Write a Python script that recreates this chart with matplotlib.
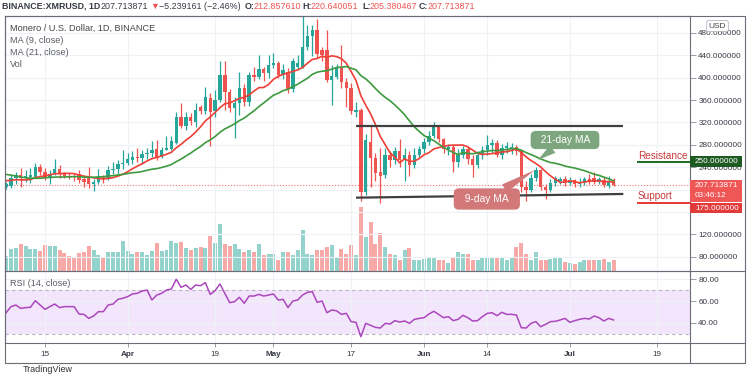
import matplotlib
matplotlib.use("Agg")
import matplotlib.pyplot as plt
import matplotlib.dates as mdates
import numpy as np
import pandas as pd
from matplotlib import font_manager
from matplotlib.patches import Rectangle
from matplotlib.ticker import FuncFormatter
from matplotlib.transforms import blended_transform_factory

# narrow font if present, otherwise plain Liberation Sans a bit smaller
_names = {f.name for f in font_manager.fontManager.ttflist}
NARROW = 'Liberation Sans Narrow' in _names
plt.rcParams['font.family'] = ['Liberation Sans Narrow', 'Liberation Sans', 'DejaVu Sans'] if NARROW \
    else ['Liberation Sans', 'DejaVu Sans']
FS = 7.0 if NARROW else 5.9
WIDE = ['Liberation Sans', 'DejaVu Sans']

# XMR/USD daily candles, Binance, 7 Mar - 10 Jul 2021
dates = pd.date_range('2021-03-07', '2021-07-10', freq='D')

opens = [204, 206, 220, 226, 220, 222, 223, 240, 232, 222,
         229, 236, 227, 225, 224, 228, 218, 221, 210, 214,
         224, 220, 234, 236, 246, 248, 252, 258, 256, 263,
         265, 272, 258, 271, 272, 284, 330, 313, 330, 320,
         348, 340, 363, 340, 360, 405, 375, 346, 355, 381,
         357, 405, 402, 415, 408, 423, 427, 405, 411, 379,
         420, 420, 455, 475, 485, 450, 450, 396, 402, 417,
         392, 382, 339, 343, 196, 285, 256, 231, 226, 262,
         252, 268, 252, 262, 244, 262, 272, 285, 296, 311,
         290, 272, 276, 250, 262, 273, 255, 244, 262, 270,
         279, 283, 262, 275, 272, 276, 268, 205, 200, 220,
         235, 205, 200, 212, 216, 218, 212, 217, 209, 212,
         219, 220, 214, 217, 206, 212.857610]
highs = [214, 226, 232, 238, 235, 238, 247, 245, 238, 235,
         255, 243, 232, 230, 228, 234, 222, 240, 218, 236,
         226, 242, 250, 252, 270, 265, 268, 274, 270, 275,
         287, 289, 276, 296, 296, 338, 354, 339, 336, 354,
         352, 384, 372, 378, 429, 429, 380, 365, 411, 388,
         410, 420, 440, 420, 440, 445, 430, 425, 418, 435,
         440, 512, 495, 495, 505, 455, 485, 423, 425, 458,
         400, 390, 356, 345, 300, 315, 265, 274, 275, 268,
         276, 290, 275, 268, 275, 278, 292, 305, 321, 314,
         293, 282, 280, 272, 278, 276, 262, 268, 278, 297,
         290, 288, 282, 285, 284, 280, 272, 215, 228, 240,
         237, 210, 218, 225, 222, 224, 222, 219, 220, 222,
         228, 232, 222, 222, 224, 220.640051]
lows = [201, 202, 210, 205, 214, 212, 220, 226, 217, 210,
        226, 220, 220, 218, 216, 212, 205, 202, 198, 209,
        212, 217, 228, 228, 237, 244, 245, 250, 245, 254,
        258, 253, 256, 270, 270, 282, 310, 306, 316, 312,
        335, 335, 277, 330, 357, 342, 339, 292, 333, 350,
        350, 395, 398, 395, 400, 418, 400, 398, 372, 375,
        415, 418, 450, 438, 435, 430, 392, 352, 398, 381,
        348, 335, 330, 180, 190, 205, 215, 175, 220, 240,
        245, 240, 215, 225, 238, 258, 265, 280, 292, 285,
        266, 262, 232, 240, 256, 245, 222, 238, 255, 262,
        265, 258, 255, 266, 264, 262, 195, 180, 196, 215,
        200, 183, 196, 206, 210, 206, 208, 204, 205, 208,
        210, 210, 210, 205, 203, 205.380467]
closes = [210, 220, 226, 220, 224, 226, 240, 232, 222, 228,
          236, 227, 225, 224, 222, 217, 214, 210, 214, 224,
          220, 234, 236, 246, 248, 254, 258, 256, 263, 265,
          270, 256, 271, 274, 286, 330, 313, 330, 322, 343,
          340, 366, 339, 360, 405, 375, 345, 355, 381, 357,
          405, 402, 415, 408, 423, 427, 405, 413, 379, 429,
          426, 455, 475, 485, 443, 440, 396, 403, 417, 392,
          382, 340, 343, 196, 288, 256, 230, 225, 262, 252,
          268, 252, 262, 244, 262, 272, 285, 296, 312, 290,
          272, 276, 250, 262, 273, 255, 244, 262, 270, 279,
          283, 262, 275, 278, 276, 268, 205, 200, 220, 235,
          205, 200, 212, 220, 218, 212, 217, 209, 214, 219,
          215, 214, 219, 208, 213, 207.713871]
volume = [15, 22, 23, 27, 25, 22, 22, 20, 26, 25,
          25, 21, 18, 15, 14, 18, 19, 25, 21, 16,
          14, 19, 19, 19, 30, 20, 17, 19, 19, 16,
          20, 28, 20, 21, 30, 28, 29, 23, 21, 23,
          24, 23, 35, 28, 47, 27, 25, 27, 22, 19,
          21, 19, 27, 16, 17, 17, 11, 19, 19, 16,
          21, 41, 17, 16, 21, 21, 24, 26, 14, 22,
          17, 26, 16, 64, 34, 49, 27, 38, 24, 17,
          16, 11, 21, 23, 11, 11, 12, 14, 14, 11,
          11, 8, 14, 19, 17, 17, 11, 11, 14, 14,
          14, 14, 14, 11, 14, 24, 28, 17, 11, 19,
          11, 11, 12, 14, 14, 9, 8, 7, 9, 11,
          11, 11, 11, 12, 9, 11]
rsi = [49.2, 54.8, 56.3, 53.2, 53.9, 54.2, 60.3, 56.3, 52.3, 54.8,
       57.2, 53.9, 54.8, 54.8, 54.8, 48.0, 47.7, 44.0, 46.2, 50.2,
       50.2, 56.3, 57.2, 61.5, 62.5, 64.0, 66.5, 67.1, 69.2, 70.1,
       60.9, 65.5, 67.1, 70.1, 71.0, 80.0, 72.6, 74.7, 70.7, 74.7,
       74.1, 76.9, 66.1, 69.5, 75.7, 67.1, 58.5, 59.4, 63.4, 57.9,
       64.6, 64.6, 66.1, 64.6, 65.5, 66.5, 60.9, 61.5, 53.9, 60.0,
       60.9, 65.5, 68.0, 68.6, 58.8, 60.0, 49.2, 51.7, 51.0, 47.7,
       48.6, 41.0, 40.3, 27.1, 39.4, 37.6, 35.7, 35.1, 39.4, 38.8,
       41.9, 40.6, 41.6, 39.4, 43.1, 44.0, 44.6, 48.0, 50.5, 47.7,
       44.6, 45.6, 41.9, 43.1, 46.8, 44.6, 41.6, 41.9, 45.6, 48.6,
       49.2, 46.5, 49.6, 47.7, 47.7, 47.1, 35.4, 35.1, 39.4, 41.0,
       36.3, 38.5, 41.0, 41.3, 42.5, 44.0, 40.3, 41.9, 43.1, 44.0,
       43.4, 46.2, 44.6, 41.6, 44.0, 42.5]
# closes of the 20 days before 7 Mar, only used to start the moving averages
warmup_close = [248, 255, 262, 250, 245, 240, 232, 205, 215, 225,
                222, 224, 218, 214, 222, 226, 218, 212, 214, 210]

# channel drawn on the chart
channel_dates = ['2021-05-18', '2021-07-12']
channel_top = [313.6, 313.6]
channel_bottom = [185.4, 192.0]

resistance_level = 250.0
support_level = 175.0
level_start = '2021-07-14 18:00'

price_ticks = [80, 120, 160, 200, 240, 280, 320, 360, 400, 440, 480]
hidden_ticks = [160, 200]   # covered by the price tags
tick_dates = ['2021-03-15', '2021-04-01', '2021-04-19', '2021-05-01', '2021-05-17',
              '2021-06-01', '2021-06-14', '2021-07-01', '2021-07-19']
tick_labels = ['15', 'Apr', '19', 'May', '17', 'Jun', '14', 'Jul', '19']

UP, DOWN = '#26a69a', '#ef5350'
UP_VOL, DOWN_VOL = '#93d3cc', '#f7a9a7'
GRID = '#eef1f6'
EDGE = '#6a6d78'
TXT = '#363a45'

x = mdates.date2num(dates)
o = np.array(opens, float)
c = np.array(closes, float)
up = c >= o
col = np.where(up, UP, DOWN)

allc = pd.Series(warmup_close + closes, dtype=float)
ma9 = allc.rolling(9).mean().to_numpy()[len(warmup_close):]
ma21 = allc.rolling(21).mean().to_numpy()[len(warmup_close):]

W, H = 750, 375
fig = plt.figure(figsize=(7.5, 3.75), dpi=100)
fig.patch.set_facecolor('white')


def rect(x0, y0, x1, y1):
    return [x0 / W, 1 - y1 / H, (x1 - x0) / W, (y1 - y0) / H]


ax = fig.add_axes(rect(5, 16, 690, 271))
vax = ax.twinx()
rax = fig.add_axes(rect(5, 271, 690, 343), sharex=ax)
vax.set_zorder(1)
ax.set_zorder(3)
ax.patch.set_visible(False)
vax.patch.set_visible(False)

# volume
vax.bar(x, volume, width=0.82, color=np.where(up, UP_VOL, DOWN_VOL), linewidth=0)
vax.set_ylim(0, max(volume) * 4.0)
vax.axis('off')

# candles + MAs
ax.vlines(x, lows, highs, colors=col, linewidth=0.9, zorder=3)
ax.bar(x, np.maximum(np.abs(c - o), 1.0), bottom=np.minimum(o, c), width=0.7,
       color=col, linewidth=0, zorder=4)
ax.plot(x, ma9, color='#ef3f36', lw=1.2, zorder=5)
ax.plot(x, ma21, color='#3e9a3e', lw=1.2, zorder=5)
ax.axhline(closes[-1], color=DOWN, lw=0.8, ls=(0, (1, 1.6)), alpha=0.8, zorder=2)

cd = mdates.date2num(pd.to_datetime(channel_dates))
ax.plot(cd, channel_top, color='#3f3f3f', lw=1.6, zorder=6, solid_capstyle='butt')
ax.plot(cd, channel_bottom, color='#3f3f3f', lw=1.6, zorder=6, solid_capstyle='butt')

xmin, xmax = x[0] - 0.23, x[-1] + 15.72
ymin, ymax = 54.2, 510.4
ax.set_xlim(xmin, xmax)
ax.set_ylim(ymin, ymax)
ax.set_axisbelow(True)
ax.set_yticks(price_ticks)
ax.yaxis.set_major_formatter(FuncFormatter(lambda v, p: '' if round(v) in hidden_ticks else '%.6f' % v))
ax.yaxis.tick_right()
ax.tick_params(axis='y', length=4, width=0.6, color='#8a8d96', pad=2, labelsize=FS, labelcolor=TXT)
ax.tick_params(axis='x', length=0, labelbottom=False)
ax.grid(True, color=GRID, lw=0.8)

# resistance / support rays with their labels
ls = mdates.date2num(pd.Timestamp(level_start))
ax.plot([ls, xmax], [resistance_level] * 2, color='#1f6b24', lw=1.4, zorder=6, solid_capstyle='butt')
ax.plot([ls, xmax], [support_level] * 2, color='#e53935', lw=1.4, zorder=6, solid_capstyle='butt')
ax.annotate('Resistance', (ls, resistance_level), xytext=(1, 6), textcoords='offset pixels',
            ha='left', va='center', color='#c9393a', fontsize=7.2, family=WIDE, zorder=7)
ax.annotate('Support', (ls, support_level), xytext=(1, 7.5), textcoords='offset pixels',
            ha='left', va='center', color='#c9393a', fontsize=7.2, family=WIDE, zorder=7)

# price tags on the right scale
tr = blended_transform_factory(ax.transAxes, ax.transData)
ppx = (ymax - ymin) / 255.0
tag_w = 52 / 685.0
tx = 1 + 5 / 685.0


def tag(value, fc, above, below):
    ax.add_patch(Rectangle((1.0, value - below * ppx), tag_w, (above + below) * ppx, transform=tr,
                           fc=fc, ec='none', clip_on=False, zorder=10))


tag(resistance_level, '#1e5b22', 5.1, 5.1)
ax.text(tx, resistance_level, '%.6f' % resistance_level, transform=tr, ha='left', va='center',
        color='white', fontsize=FS, zorder=11)
tag(closes[-1], '#ef5656', 5.2, 16.5)
ax.text(tx, closes[-1], '%.6f' % closes[-1], transform=tr, ha='left', va='center',
        color='white', fontsize=FS, zorder=11)
ax.text(tx, closes[-1] - 10.5 * ppx, '03:46:12', transform=tr, ha='left', va='center',
        color='white', fontsize=FS, zorder=11)
tag(support_level, '#e23b3b', 0, 9.4)
ax.text(tx, support_level - 4.7 * ppx, '%.6f' % support_level, transform=tr, ha='left', va='center',
        color='white', fontsize=FS, zorder=11)

# callouts
ma_callouts = [('  21-day MA  ', '2021-06-30', 288.6, '2021-06-24 10:00', 252.8, '#7ea67e', 0.4),
               ('  9-day MA  ', '2021-06-13 22:00', 183.0, '2021-06-23 20:00', 234.9, '#d27878', 0.55)]
for txt, bd, bp, td, tp, fc, pad in ma_callouts:
    ax.annotate(txt, xy=(mdates.date2num(pd.Timestamp(td)), tp),
                xytext=(mdates.date2num(pd.Timestamp(bd)), bp),
                ha='center', va='center', color='white', fontsize=7.4, family=WIDE, zorder=12,
                bbox=dict(boxstyle='round,pad=%s,rounding_size=0.5' % pad, fc=fc, ec='none'),
                arrowprops=dict(arrowstyle='wedge,tail_width=0.9,shrink_factor=0.5', fc=fc, ec='none',
                                shrinkA=0, shrinkB=0))

# RSI pane
rax.axhspan(30, 70, color='#f3e6fc', lw=0, zorder=0)
for lv in (70, 30):
    rax.axhline(lv, color='#b7b3c2', lw=0.8, ls=(0, (3, 3)), zorder=1)
rax.plot(x, rsi, color='#ab47bc', lw=1.1, zorder=3)
rax.set_ylim(21.3, 87.65)
rax.set_axisbelow(True)
rax.set_yticks([40, 60, 80])
rax.yaxis.set_major_formatter(FuncFormatter(lambda v, p: '%.2f' % v))
rax.yaxis.tick_right()
rax.tick_params(axis='y', length=4, width=0.6, color='#8a8d96', pad=2, labelsize=FS, labelcolor=TXT)
rax.set_xticks(mdates.date2num(pd.to_datetime(tick_dates)))
rax.set_xticklabels(tick_labels)
rax.tick_params(axis='x', length=3, width=0.6, color='#8a8d96', pad=2.5, labelsize=FS, labelcolor=TXT)
for t, lab in zip(rax.get_xticklabels(), tick_labels):
    if lab.isalpha():
        t.set_fontweight('bold')
rax.grid(True, color=GRID, lw=0.8)
rax.set_xlim(xmin, xmax)

for a in (ax, rax):
    for s in a.spines.values():
        s.set_color(EDGE)
        s.set_linewidth(0.8)

# overlay in pixel units: frame, header, legend
fr = fig.add_axes([0, 0, 1, 1], zorder=10)
fr.set_xlim(0, W)
fr.set_ylim(H, 0)
fr.axis('off')
kw = dict(color=EDGE, lw=0.8)
fr.plot([4.5, 745, 745, 4.5, 4.5], [16, 16, 362.5, 362.5, 16], **kw)
fr.plot([690, 745], [271, 271], **kw)
fr.plot([690, 745], [343, 343], **kw)
fr.plot([690, 690], [343, 362.5], **kw)

HF = 7.8 if NARROW else 6.4
header = [('BINANCE:XMRUSD, 1D', 1.5, TXT, 'bold'), ('207.713871', 101, TXT, 'normal'),
          ('\u25bc', 150, DOWN, 'normal'), ('\u22125.239161 (\u22122.46%)', 159, TXT, 'normal'),
          ('O:', 245, TXT, 'bold'), ('212.857610', 254, DOWN, 'normal'),
          ('H:', 302, TXT, 'bold'), ('220.640051', 311, DOWN, 'normal'),
          ('L:', 362, TXT, 'bold'), ('205.380467', 370, DOWN, 'normal'),
          ('C:', 419, TXT, 'bold'), ('207.713871', 428, DOWN, 'normal')]
for s, hx, hc, hw in header:
    fr.text(hx, 6.5, s, ha='left', va='center', color=hc, fontsize=HF, fontweight=hw)

LF = 7.6 if NARROW else 6.6
fr.text(10, 28.3, 'Monero / U.S. Dollar, 1D, BINANCE', ha='left', va='center', color='#444',
        fontsize=LF)
for i, s in enumerate(['MA (9, close)', 'MA (21, close)', 'Vol']):
    fr.text(10, 40.5 + 11.8 * i, s, ha='left', va='center', color='#5a5d66', fontsize=LF)
fr.text(10, 283.5, 'RSI (14, close)', ha='left', va='center', color='#5a5d66', fontsize=LF)

fr.text(717.5, 26, 'USD', ha='center', va='center', color='#444', fontsize=6, family=WIDE,
        bbox=dict(boxstyle='round,pad=0.25', fc='white', ec='#b5b8c0', lw=0.6))
fr.text(23, 364.5, 'TradingView', ha='left', va='top', color='#333', fontsize=6.5, family=WIDE)

fig.savefig('out.png', dpi=100)
